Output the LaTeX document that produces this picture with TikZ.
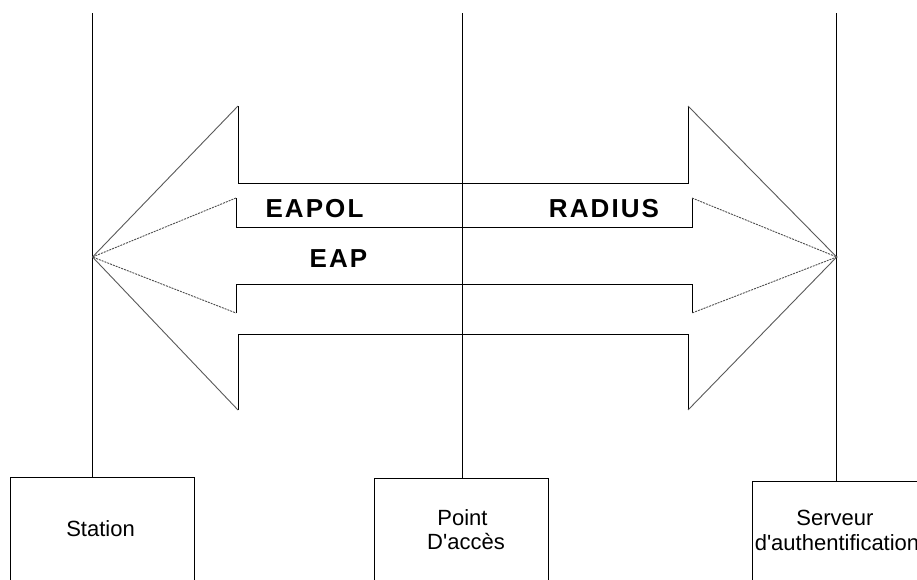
\documentclass[tikz,border=0pt]{standalone}
\usepackage{fontspec}
\setmainfont{Liberation Sans}[Ligatures=TeXOff]
\newfontfamily\lblfont{Liberation Sans}[LetterSpace=8]
\begin{document}
\begin{tikzpicture}[x=1pt,y=-1pt,
  ln/.style={line width=1pt,black},
  diag/.style={line width=0.9pt,black!65},
  ddiag/.style={line width=0.9pt,black!70,dash pattern=on 2pt off 1pt},
  box/.style={draw,line width=1pt,anchor=north west,inner sep=0pt,minimum height=150pt},
  boxtext/.style={anchor=base,inner sep=0pt,font=\fontsize{22}{24}\selectfont},
  lbl/.style={anchor=base,inner sep=0pt,font=\lblfont\bfseries\fontsize{26}{30}\selectfont}]
\useasboundingbox (0,0) rectangle (917,579);
\clip (0,0) rectangle (917,579);

% boxes
\node[box,minimum width=184.5pt] (station) at (9.5,477) {};
\node[box,minimum width=174pt] (ap) at (373.5,478) {};
\node[box,minimum width=190pt] (srv) at (752,481) {};

% box texts
\node[boxtext] (stationtxt) at (100.5,536) {Station};
\node[boxtext] (aptxt1) at (462.5,525) {Point};
\node[boxtext] (aptxt2) at (466,549) {D'accès};
\node[boxtext] (srvtxt1) at (835,525) {Serveur};
\node[boxtext] (srvtxt2) at (837,550) {d'authentification};

% vertical lines
\coordinate (stationtop) at (92.5,13);
\coordinate (aptop) at (462.3,13);
\coordinate (srvtop) at (836.7,13);
\draw[ln] (stationtop) -- (stationtop |- station.north);
\draw[ln] (aptop) -- (aptop |- ap.north);
\draw[ln] (srvtop) -- (srvtop |- srv.north);

% arrow tips
\coordinate (ltip) at (92.5,257);
\coordinate (rtip) at (836.7,257);

% outer arrow
\coordinate (olt) at (238,106);
\coordinate (olb) at (238,410);
\coordinate (ort) at (688,106);
\coordinate (orb) at (688,410);
\draw[ln] (olt) -- (238,183) -- (688,183) -- (ort);
\draw[ln] (olb) -- (238,334) -- (688,334) -- (orb);
\draw[diag] (olt) -- (ltip) -- (olb);
\draw[diag] (ort) -- (rtip) -- (orb);

% inner arrow
\coordinate (ilt) at (236,198);
\coordinate (ilb) at (236,313);
\coordinate (irt) at (692,198);
\coordinate (irb) at (692,313);
\draw[ln] (ilt) -- (236,227) -- (692,227) -- (irt);
\draw[ln] (ilb) -- (236,284) -- (692,284) -- (irb);
\draw[ddiag] (ilt) -- (ltip) -- (ilb);
\draw[ddiag] (irt) -- (rtip) -- (irb);

% labels
\node[lbl] (eapol) at (314.5,217) {EAPOL};
\node[lbl] (radius) at (604,217) {RADIUS};
\node[lbl] (eap) at (338.5,267) {EAP};
\end{tikzpicture}
\end{document}
